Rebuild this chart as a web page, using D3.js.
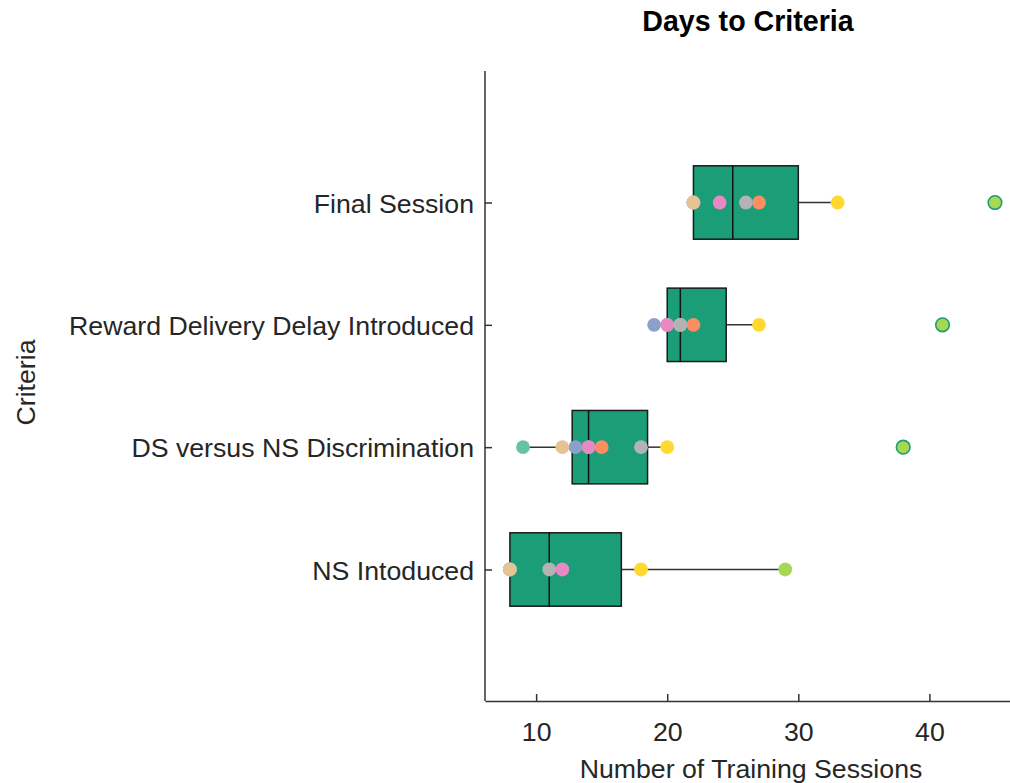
<!DOCTYPE html>
<html>
<head>
<meta charset="utf-8">
<script src="https://cdn.jsdelivr.net/npm/d3@7"></script>
<style>
  html, body { margin: 0; padding: 0; background: #ffffff; }
  svg { display: block; font-family: "Liberation Sans", Arial, Helvetica, sans-serif; }
</style>
</head>
<body>
<svg id="chart" width="1010" height="783"></svg>
<script>
// Criteria, listed bottom to top
const criteria = [
  "NS Intoduced",
  "DS versus NS Discrimination",
  "Reward Delivery Delay Introduced",
  "Final Session"
];

// One colour per subject (subjects are drawn in this order)
const subjectColors = [
  "#66c2a5", "#66c2a5", "#fc8d62", "#8da0cb", "#e78ac3",
  "#a6d854", "#ffd92f", "#e5c494", "#b3b3b3"
];

// Training sessions needed per subject (null = not reached / not recorded)
const nsIntroduced     = [null,  8, null,  8, 12, 29, 18,  8, 11];
const dsDiscrimination = [  14,  9,   15, 13, 14, 38, 20, 12, 18];
const rewardDelay      = [null, 20,   22, 19, 20, 41, 27, 21, 21];
const finalSession     = [null, 22,   27, 22, 24, 45, 33, 22, 26];

const xTicks = [10, 20, 30, 40];
const xLimits = [6.1, 46.3];

const sessionsByCriterion = [nsIntroduced, dsDiscrimination, rewardDelay, finalSession];

const boxColor = "#1b9e77";
const textColor = "#262626";
const fontSize = 26.7;

const svg = d3.select("#chart");
const plot = { left: 485, right: 1012, top: 71, bottom: 701 };

const x = d3.scaleLinear().domain(xLimits).range([plot.left, plot.right]);
const y = d3.scalePoint().domain(criteria).range([plot.bottom, plot.top]).padding(1.075);
const boxHalf = y.step() * 0.3;

// Quantile with positions at (i - 0.5) / n, linearly interpolated
function quantile(sorted, p) {
  const n = sorted.length;
  let pos = n * p + 0.5;
  if (pos <= 1) return sorted[0];
  if (pos >= n) return sorted[n - 1];
  const lo = Math.floor(pos);
  const frac = pos - lo;
  return sorted[lo - 1] + frac * (sorted[lo] - sorted[lo - 1]);
}

const stats = criteria.map((c, i) => {
  const vals = sessionsByCriterion[i].filter(v => v != null).sort((a, b) => a - b);
  const q1 = quantile(vals, 0.25);
  const med = quantile(vals, 0.5);
  const q3 = quantile(vals, 0.75);
  const iqr = q3 - q1;
  const loFence = q1 - 1.5 * iqr, hiFence = q3 + 1.5 * iqr;
  const inside = vals.filter(v => v >= loFence && v <= hiFence);
  return {
    criterion: c, q1, med, q3,
    lo: d3.min(inside), hi: d3.max(inside),
    outliers: vals.filter(v => v < loFence || v > hiFence)
  };
});

// Axes
const xAxis = d3.axisBottom(x).tickValues(xTicks).tickSizeInner(-7).tickSizeOuter(0).tickPadding(21);
const gx = svg.append("g").attr("transform", `translate(0,${plot.bottom})`).call(xAxis);
const yAxis = d3.axisLeft(y).tickSizeInner(-7).tickSizeOuter(0).tickPadding(11);
const gy = svg.append("g").attr("transform", `translate(${plot.left},0)`).call(yAxis);

[gx, gy].forEach(g => {
  g.select(".domain").attr("stroke", "#333333").attr("stroke-width", 1.5);
  g.selectAll(".tick line").attr("stroke", "#333333").attr("stroke-width", 1.5);
  g.selectAll(".tick text")
    .attr("fill", textColor)
    .style("font-size", fontSize + "px")
    .style("font-family", '"Liberation Sans", Arial, Helvetica, sans-serif');
});
gy.select(".domain").attr("d", `M0,${plot.top}V${plot.bottom}`);
gy.selectAll(".tick text").attr("dy", "0.36em");

// Box plots
const boxes = svg.append("g");
stats.forEach(s => {
  const cy = y(s.criterion);
  // whiskers
  boxes.append("line")
    .attr("x1", x(s.lo)).attr("x2", x(s.q1)).attr("y1", cy).attr("y2", cy)
    .attr("stroke", "#333333").attr("stroke-width", 1.5);
  boxes.append("line")
    .attr("x1", x(s.q3)).attr("x2", x(s.hi)).attr("y1", cy).attr("y2", cy)
    .attr("stroke", "#333333").attr("stroke-width", 1.5);
  // box
  boxes.append("rect")
    .attr("x", x(s.q1)).attr("y", cy - boxHalf)
    .attr("width", x(s.q3) - x(s.q1)).attr("height", boxHalf * 2)
    .attr("fill", boxColor).attr("stroke", "#1a1a1a").attr("stroke-width", 1.5);
  // median
  boxes.append("line")
    .attr("x1", x(s.med)).attr("x2", x(s.med))
    .attr("y1", cy - boxHalf).attr("y2", cy + boxHalf)
    .attr("stroke", "#111111").attr("stroke-width", 1.5);
});

// Individual subjects
const points = [];
subjectColors.forEach((col, si) => {
  criteria.forEach((c, ci) => {
    const v = sessionsByCriterion[ci][si];
    if (v != null) points.push({ c, v, col });
  });
});
svg.append("g").selectAll("circle")
  .data(points).join("circle")
  .attr("cx", d => x(d.v)).attr("cy", d => y(d.c))
  .attr("r", 6.9).attr("fill", d => d.col);

// Outlier markers
const outs = stats.flatMap(s => s.outliers.map(v => ({ c: s.criterion, v })));
svg.append("g").selectAll("circle")
  .data(outs).join("circle")
  .attr("cx", d => x(d.v)).attr("cy", d => y(d.c))
  .attr("r", 6.8).attr("fill", "none")
  .attr("stroke", boxColor).attr("stroke-width", 1.6);

// Labels
svg.append("text")
  .attr("x", 748).attr("y", 31)
  .attr("text-anchor", "middle")
  .attr("fill", "#000000")
  .style("font-size", "28.6px").style("font-weight", "bold")
  .text("Days to Criteria");

svg.append("text")
  .attr("x", 751).attr("y", 778)
  .attr("text-anchor", "middle")
  .attr("fill", textColor)
  .style("font-size", fontSize + "px")
  .text("Number of Training Sessions");

svg.append("text")
  .attr("transform", `translate(35,382.5) rotate(-90)`)
  .attr("text-anchor", "middle")
  .attr("fill", textColor)
  .style("font-size", fontSize + "px")
  .text("Criteria");
</script>
</body>
</html>
